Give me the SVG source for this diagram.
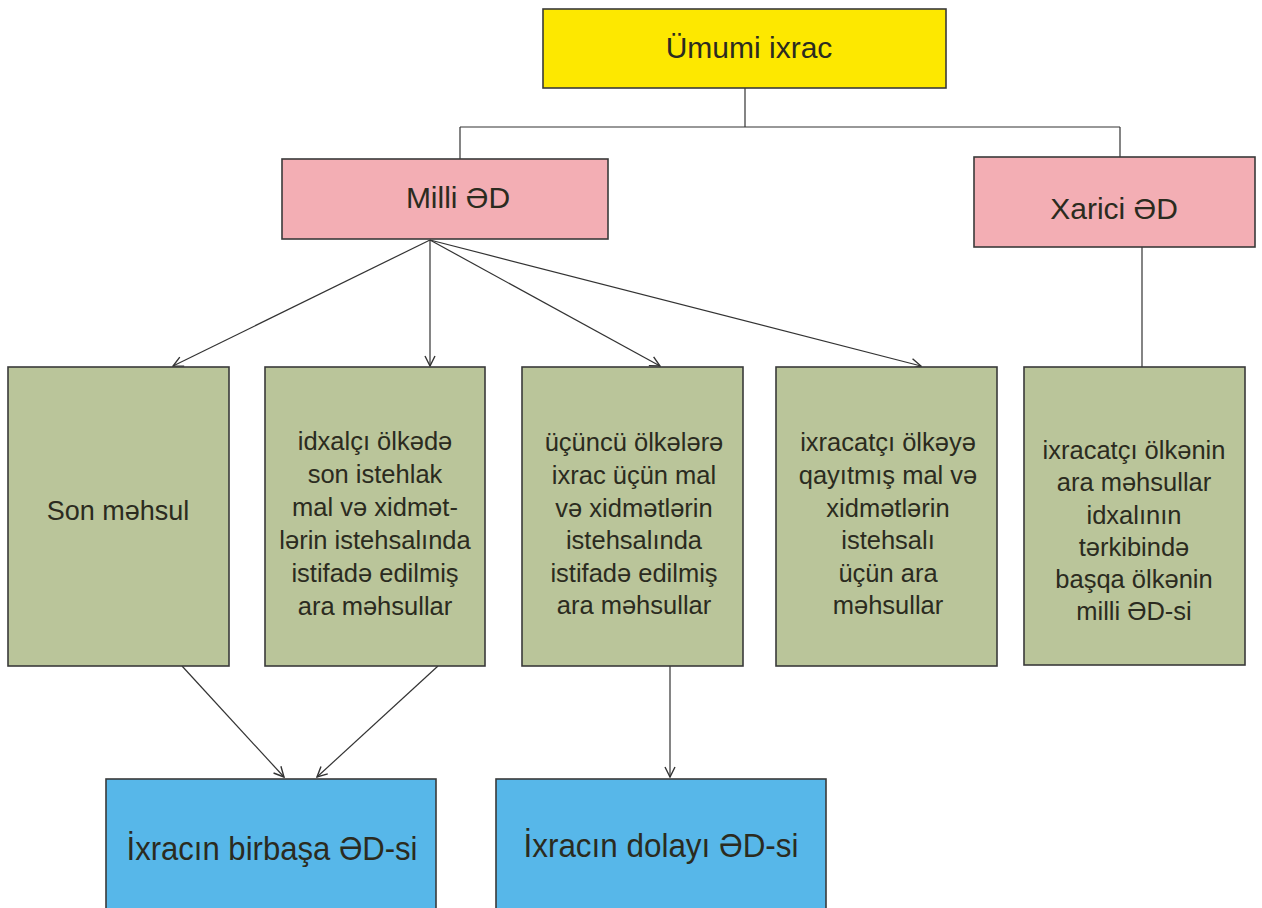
<svg xmlns="http://www.w3.org/2000/svg" width="1262" height="908" viewBox="0 0 1262 908">
<style>
.box{stroke:#3a3a3a;stroke-width:1.6}
.y{fill:#FDE800}.p{fill:#F3AEB4}.g{fill:#BAC59A}.b{fill:#57B7E9}
text{font-family:"Liberation Sans",Arial,sans-serif;fill:#2b2b20;text-anchor:middle}
.t30{font-size:30px}.t26{font-size:25.5px}
.c{stroke:#333;stroke-width:1.2;fill:none}
</style>
<defs>
<marker id="ah" viewBox="0 0 12 12" refX="11" refY="6" markerWidth="12" markerHeight="12" markerUnits="userSpaceOnUse" orient="auto">
<path d="M1,1 L11,6 L1,11" fill="none" stroke="#333" stroke-width="1.4"/>
</marker>
</defs>
<rect width="1262" height="908" fill="#ffffff"/>
<g id="connectors">
<line class="c" x1="745" y1="88" x2="745" y2="127"/>
<line class="c" x1="460" y1="127" x2="1120" y2="127"/>
<line class="c" x1="460" y1="127" x2="460" y2="159"/>
<line class="c" x1="1120" y1="127" x2="1120" y2="157"/>
<line class="c" x1="1142" y1="247" x2="1142" y2="367"/>
<line class="c" x1="430" y1="240" x2="173" y2="366" marker-end="url(#ah)"/>
<line class="c" x1="430" y1="240" x2="430" y2="366" marker-end="url(#ah)"/>
<line class="c" x1="430" y1="240" x2="660" y2="366" marker-end="url(#ah)"/>
<line class="c" x1="430" y1="240" x2="921" y2="366" marker-end="url(#ah)"/>
<line class="c" x1="182" y1="666" x2="284" y2="777" marker-end="url(#ah)"/>
<line class="c" x1="438" y1="666" x2="317" y2="777" marker-end="url(#ah)"/>
<line class="c" x1="670" y1="666" x2="670" y2="777" marker-end="url(#ah)"/>
</g>
<g id="umumi-ixrac">
<rect class="box y" x="543" y="9" width="403" height="79"/>
<text class="t30" x="749" y="58">Ümumi ixrac</text>
</g>
<g id="milli-ed">
<rect class="box p" x="282" y="159" width="326" height="80"/>
<text class="t30" x="458" y="208">Milli ƏD</text>
</g>
<g id="xarici-ed">
<rect class="box p" x="974" y="157" width="281" height="90"/>
<text class="t30" x="1114" y="219">Xarici ƏD</text>
</g>
<g id="son-mehsul">
<rect class="box g" x="8" y="367" width="221" height="299"/>
<text x="118" y="520" style="font-size:27px">Son məhsul</text>
</g>
<g id="idxalci">
<rect class="box g" x="265" y="367" width="220" height="299"/>
<text class="t26" x="375" y="450">idxalçı ölkədə</text>
<text class="t26" x="375" y="483">son istehlak</text>
<text class="t26" x="375" y="516">mal və xidmət-</text>
<text class="t26" x="375" y="549">lərin istehsalında</text>
<text class="t26" x="375" y="582">istifadə edilmiş</text>
<text class="t26" x="375" y="615">ara məhsullar</text>
</g>
<g id="ucuncu">
<rect class="box g" x="522" y="367" width="221" height="299"/>
<text class="t26" x="634" y="451">üçüncü ölkələrə</text>
<text class="t26" x="634" y="484">ixrac üçün mal</text>
<text class="t26" x="634" y="517">və xidmətlərin</text>
<text class="t26" x="634" y="549">istehsalında</text>
<text class="t26" x="634" y="582">istifadə edilmiş</text>
<text class="t26" x="634" y="614">ara məhsullar</text>
</g>
<g id="ixracatci-qayitmis">
<rect class="box g" x="776" y="367" width="221" height="299"/>
<text class="t26" x="888" y="451">ixracatçı ölkəyə</text>
<text class="t26" x="888" y="484">qayıtmış mal və</text>
<text class="t26" x="888" y="517">xidmətlərin</text>
<text class="t26" x="888" y="549">istehsalı</text>
<text class="t26" x="888" y="582">üçün ara</text>
<text class="t26" x="888" y="614">məhsullar</text>
</g>
<g id="ixracatci-olkenin">
<rect class="box g" x="1024" y="367" width="221" height="298"/>
<text class="t26" x="1134" y="459">ixracatçı ölkənin</text>
<text class="t26" x="1134" y="491">ara məhsullar</text>
<text class="t26" x="1134" y="524">idxalının</text>
<text class="t26" x="1134" y="556">tərkibində</text>
<text class="t26" x="1134" y="588">başqa ölkənin</text>
<text class="t26" x="1134" y="620">milli ƏD-si</text>
</g>
<g id="birbasa">
<rect class="box b" x="106" y="779" width="330" height="140"/>
<text x="272" y="860" style="font-size:34px" textLength="291" lengthAdjust="spacingAndGlyphs">İxracın birbaşa ƏD-si</text>
</g>
<g id="dolayi">
<rect class="box b" x="496" y="779" width="330" height="140"/>
<text x="661" y="857" style="font-size:34px" textLength="275" lengthAdjust="spacingAndGlyphs">İxracın dolayı ƏD-si</text>
</g>
</svg>
